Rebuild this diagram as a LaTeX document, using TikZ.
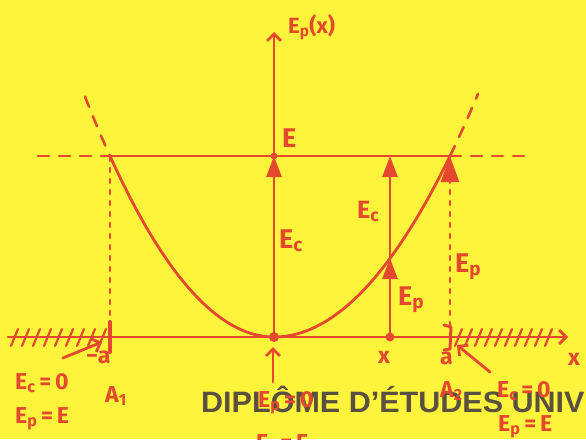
\documentclass[tikz,border=0pt]{standalone}
\usepackage{fontspec}
\setmainfont{Fira Sans}
\newfontfamily\printfont{Liberation Sans}
\usetikzlibrary{arrows.meta}
\definecolor{paper}{HTML}{FFF43C}
\definecolor{penred}{HTML}{E4482E}
\definecolor{inkgray}{HTML}{5A5040}
\tikzset{
  every picture/.style={
    line join=round,
    line cap=round,
  },
  ink/.style={draw=penred, line width=2.8pt},
  guide/.style={draw=penred, line width=2.4pt, dash pattern=on 4pt off 7pt},
  level/.style={draw=penred, line width=2.6pt, dash pattern=on 11pt off 10pt},
  hatch/.style={draw=penred, line width=2.2pt},
  head/.style={-{Triangle[length=21pt,width=15pt]}},
  chevron/.style={-{Straight Barb[length=7pt,width=14pt]}},
  lab/.style={text=penred, inner sep=0pt, anchor=base west, font=\fontsize{27}{27}\selectfont\bfseries},
  note/.style={lab, font=\fontsize{23}{23}\selectfont\bfseries},
}
\begin{document}
\begin{tikzpicture}[x=1pt,y=-1pt]
\useasboundingbox (0,0) rectangle (586,439);
\fill[paper] (0,0) rectangle (586,439);
% the overprinted heading of the sheet
\node[anchor=base west, inner sep=0pt, text=inkgray] (heading) at (201,412)
  {\scalebox{1.035}[1]{\printfont\fontsize{29.5}{30}\selectfont\bfseries DIPLÔME D’ÉTUDES UNIV}};
\coordinate (O) at (274,337);
\coordinate (top) at (274,32);
\coordinate (xl) at (8,337);
\coordinate (xr) at (568,337);
\coordinate (A1) at (110,337);
\coordinate (A2) at (450,337);
\coordinate (B1) at (110,156);
\coordinate (B2) at (450,156);
\coordinate (OE) at (274,156);
\coordinate (X) at (390,337);
\coordinate (XP) at (390,258);
\coordinate (XE) at (390,156);
\coordinate (EL) at (38,156);
\coordinate (ER) at (525,156);
% axes
\draw[ink,chevron] (xl) -- (xr);
\draw[ink,chevron] (O) -- (top);
\foreach \h in {14,25,...,102} \draw[hatch] (\h-3,346) -- (\h+4,329);
\foreach \h in {458,468,...,555} \draw[hatch] (\h-3,346) -- (\h+4,329);
\draw[ink,line width=4pt] (110,322) -- (110,352);
\draw[ink,line width=3pt] (444,325) -- (451,327) -- (450,349) -- (444,350);
% energy level E
\draw[ink] (B1) -- (B2);
\draw[level] (EL) -- (B1);
\draw[level] (B2) -- (ER);
\draw[guide] (A1) -- (B1);
\draw[guide,-{Triangle[length=26pt,width=18pt]}] (A2) -- (B2);
% potential curve
\draw[ink,domain=-164:0,samples=40] plot (\x+274,{337-181*(\x/164)^2});
\draw[ink,domain=0:176,samples=40] plot (\x+274,{337-181*(\x/176)^2});
\draw[level,domain=-189:-164,samples=10] plot (\x+274,{337-181*(\x/164)^2});
\draw[level,domain=176:204,samples=10] plot (\x+274,{337-181*(\x/176)^2});
% energy arrows
\draw[ink,head] (O) -- (OE);
\draw[ink,head] (X) -- (XP);
\draw[ink,head] (XP) -- (XE);
\fill[penred] (O) circle (5);
\fill[penred] (X) circle (4.5);
\fill[penred] (OE) circle (3.5);
% pointers to the turning points
\coordinate (p1) at (63,358);
\coordinate (p2) at (490,372);
\coordinate (p3) at (273,382);
\draw[ink,chevron] (p1) -- (102,342);
\draw[ink,chevron] (p2) -- (457,345);
\draw[ink,chevron] (p3) -- (273,347);
% labels
\node[lab,font=\fontsize{22}{22}\selectfont\bfseries] (ylab) at (288,33) {E\textsubscript{p}(x)};
\node[lab] (Elab) at (282,147) {E};
\node[lab] (Ecmid) at (279,248) {E\textsubscript{c}};
\node[lab,font=\fontsize{25}{25}\selectfont\bfseries] (Ecx) at (357,218) {E\textsubscript{c}};
\node[lab] (Epx) at (398,305) {E\textsubscript{p}};
\node[lab] (Epa) at (455,272) {E\textsubscript{p}};
\node[note] (ma) at (86,363) {−a};
\node[note] (pa) at (440,364) {a};
\node[note] (xx) at (378,363) {x};
\node[note] (xaxis) at (568,365) {x};
\node[note] (A1lab) at (105,402) {A\textsubscript{1}};
\node[note] (A2lab) at (440,397) {A\textsubscript{2}};
\node[note] (Ec1) at (15,389) {E\textsubscript{c}\,=\,0};
\node[note] (Ep1) at (15,423) {E\textsubscript{p}\,=\,E};
\node[note] (Ec2) at (497,397) {E\textsubscript{c}\,=\,0};
\node[note] (Ep2) at (498,431) {E\textsubscript{p}\,=\,E};
\node[note] (Ep0) at (258,407) {E\textsubscript{p}\,=\,0};
\node[note] (EcE) at (256,450) {E\textsubscript{c}\,=\,E};
\end{tikzpicture}
\end{document}
